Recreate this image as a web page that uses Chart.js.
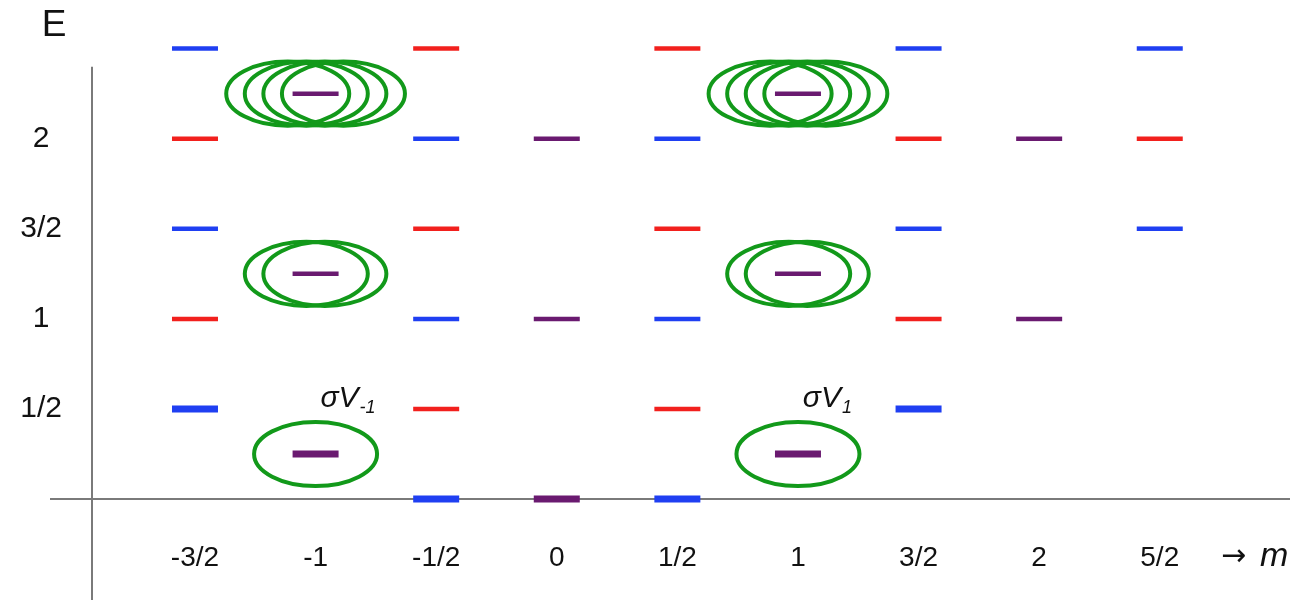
<!DOCTYPE html>
<html>
<head>
<meta charset="utf-8">
<script src="https://cdn.jsdelivr.net/npm/chart.js@4.4.1/dist/chart.umd.min.js"></script>
<style>
  html, body { margin: 0; padding: 0; background: #fff; }
  #wrap { width: 1298px; height: 604px; }
</style>
</head>
<body>
<div id="wrap"><canvas id="levels"></canvas></div>
<script>
// ─── Data ──────────────────────────────────────────────

const mValues  = [-1.5, -1, -0.5, 0, 0.5, 1, 1.5, 2, 2.5];
const mLabels  = ['-3/2', '-1', '-1/2', '0', '1/2', '1', '3/2', '2', '5/2'];
const eValues  = [0.5, 1, 1.5, 2];
const eLabels  = ['1/2', '1', '3/2', '2'];

// [m, E] of each level, by colour
const blueLevels = [
  [-1.5, 0.5], [-1.5, 1.5], [-1.5, 2.5],
  [-0.5, 0], [-0.5, 1], [-0.5, 2],
  [0.5, 0], [0.5, 1], [0.5, 2],
  [1.5, 0.5], [1.5, 1.5], [1.5, 2.5],
  [2.5, 1.5], [2.5, 2.5],
];
const redLevels = [
  [-1.5, 1], [-1.5, 2],
  [-0.5, 0.5], [-0.5, 1.5], [-0.5, 2.5],
  [0.5, 0.5], [0.5, 1.5], [0.5, 2.5],
  [1.5, 1], [1.5, 2],
  [2.5, 2],
];
const purpleLevels = [
  [-1, 0.25], [-1, 1.25], [-1, 2.25],
  [0, 0], [0, 1], [0, 2],
  [1, 0.25], [1, 1.25], [1, 2.25],
  [2, 1], [2, 2],
];
// ground levels drawn with a heavier stroke
const groundLevels = [[-1.5, 0.5], [-1, 0.25], [-0.5, 0], [0, 0], [0.5, 0], [1, 0.25], [1.5, 0.5]];

// green rings round the purple levels
const ringM     = [-1, -1, -1, 1, 1, 1];
const ringE     = [0.25, 1.25, 2.25, 0.25, 1.25, 2.25];
const ringCount = [1, 2, 4, 1, 2, 4];

const sigmaM   = [-1, 1];
const sigmaSub = ['-1', '1'];

// ─── Helpers ───────────────────────────────────────────

const BLUE   = '#1f3ff2';
const RED    = '#f2201d';
const PURPLE = '#6a1a70';
const GREEN  = '#12991a';
const FONT   = '"Liberation Sans", Arial, sans-serif';

const isGround = (x, y) => groundLevels.some(([gm, ge]) => gm === x && ge === y);

function levelSet(levels, color) {
  return {
    data: levels.map(([x, y]) => ({ x, y })),
    pointStyle: 'line',
    pointRadius: 23,
    pointHoverRadius: 23,
    pointBorderColor: color,
    pointBackgroundColor: color,
    pointBorderWidth: ctx => {
      const p = ctx.raw;
      return p && isGround(p.x, p.y) ? 7 : 4.5;
    },
    showLine: false,
    clip: false,
  };
}

// ─── Plugin: axes lines, rings and labels ──────────────

const diagramPlugin = {
  id: 'diagram',
  beforeDatasetsDraw(chart) {
    const { ctx, scales: { x, y }, chartArea } = chart;
    const y0 = y.getPixelForValue(0);
    ctx.save();
    ctx.strokeStyle = '#7a7a7a';
    ctx.lineWidth = 2;
    ctx.beginPath();
    ctx.moveTo(50, y0);
    ctx.lineTo(chartArea.right, y0);
    ctx.moveTo(chartArea.left, y.getPixelForValue(2.4));
    ctx.lineTo(chartArea.left, chartArea.bottom);
    ctx.stroke();
    ctx.restore();
  },
  afterDatasetsDraw(chart) {
    const { ctx, scales: { x, y } } = chart;
    ctx.save();

    // rings
    ctx.strokeStyle = GREEN;
    ctx.lineWidth = 4;
    ringM.forEach((m, i) => {
      const cx = x.getPixelForValue(m);
      const cy = y.getPixelForValue(ringE[i]);
      const rx = x.getPixelForValue(m + 0.255) - cx;
      const ry = cy - y.getPixelForValue(ringE[i] + 0.178);
      const step = x.getPixelForValue(m + 0.077) - cx;
      const n = ringCount[i];
      for (let k = 0; k < n; k++) {
        const off = (k - (n - 1) / 2) * step;
        ctx.beginPath();
        ctx.ellipse(cx + off, cy, rx, ry, 0, 0, Math.PI * 2);
        ctx.stroke();
      }
    });

    // σV labels
    ctx.fillStyle = '#111';
    ctx.textBaseline = 'alphabetic';
    ctx.textAlign = 'left';
    sigmaM.forEach((m, i) => {
      const px = x.getPixelForValue(m + 0.02);
      const py = y.getPixelForValue(0.51);
      ctx.font = 'italic 30px ' + FONT;
      ctx.fillText('σV', px, py);
      const w = ctx.measureText('σV').width;
      ctx.font = 'italic 18px ' + FONT;
      ctx.fillText(sigmaSub[i], px + w + 1, py + 6);
    });

    // axis names
    ctx.font = '37px ' + FONT;
    ctx.textAlign = 'center';
    ctx.textBaseline = 'middle';
    ctx.fillText('E', 54, 26);

    ctx.textAlign = 'left';
    ctx.font = '30px "DejaVu Sans", sans-serif';
    ctx.fillText('→', 1221, 557);
    ctx.font = 'italic 34px ' + FONT;
    ctx.fillText('m', 1260, 557);

    ctx.restore();
  },
};

// ─── Chart ─────────────────────────────────────────────

new Chart(document.getElementById('levels'), {
  type: 'scatter',
  data: {
    datasets: [
      levelSet(blueLevels, BLUE),
      levelSet(redLevels, RED),
      levelSet(purpleLevels, PURPLE),
    ],
  },
  options: {
    responsive: true,
    maintainAspectRatio: false,
    animation: false,
    layout: { autoPadding: false, padding: { top: 27, bottom: 4, right: 8, left: 0 } },
    plugins: {
      legend: { display: false },
      tooltip: { enabled: false },
    },
    scales: {
      x: {
        type: 'linear',
        position: { y: 0 },
        min: -1.927,
        max: 3.04,
        afterFit: axis => { axis.paddingLeft = 0; axis.paddingRight = 0; },
        afterBuildTicks: axis => { axis.ticks = mValues.map(v => ({ value: v })); },
        ticks: {
          padding: 42,
          color: '#111',
          font: { size: 28, family: FONT },
          callback: v => mLabels[mValues.indexOf(v)],
        },
        grid: { display: false, drawTicks: false },
        border: { display: false },
      },
      y: {
        type: 'linear',
        position: 'left',
        min: -0.56,
        max: 2.62,
        afterFit: axis => {
          axis.width = 92;
          axis.paddingTop = 0;
          axis.paddingBottom = 0;
        },
        afterBuildTicks: axis => { axis.ticks = eValues.map(v => ({ value: v })); },
        ticks: {
          padding: 30,
          crossAlign: 'center',
          color: '#111',
          font: { size: 30, family: FONT },
          callback: v => eLabels[eValues.indexOf(v)],
        },
        grid: { display: false, drawTicks: false },
        border: { display: false },
      },
    },
  },
  plugins: [diagramPlugin],
});
</script>
</body>
</html>
